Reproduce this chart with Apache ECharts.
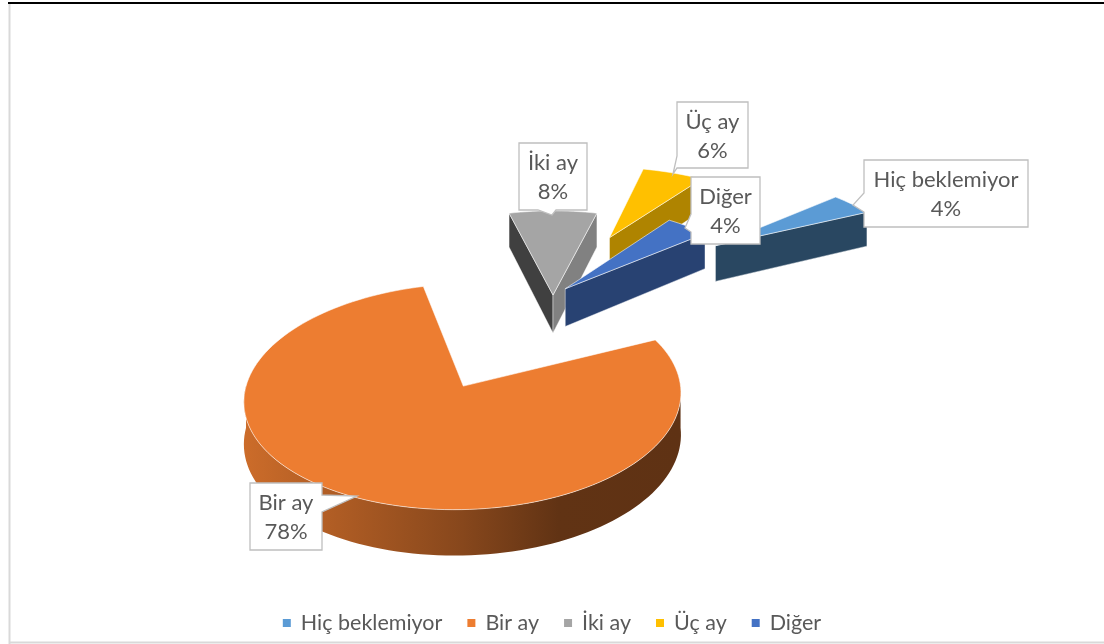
<!DOCTYPE html>
<html><head><meta charset="utf-8">
<script src="https://cdn.jsdelivr.net/npm/echarts@6/dist/echarts.min.js"></script>
<style>html,body{margin:0;padding:0;background:#fff}#c{width:1104px;height:644px}</style>
</head><body><div id="c"></div>
<script>
// ---- data ----
const categories = ['Hiç beklemiyor', 'Bir ay', 'İki ay', 'Üç ay', 'Diğer'];
const values = [4, 78, 8, 6, 4];
const pctLabels = ['4%', '78%', '8%', '6%', '4%'];

// ---- styles / layout ----
const colors = ['#5B9BD5', '#ED7D31', '#A5A5A5', '#FFC000', '#4472C4'];
const geo = { cx: 553, cy: 295, R: 198, k: 0.478, h: 38, p: 0.00056, start: 50.4 };
const explode = [205, 192, 0, 143, 18];
const labelBoxes = [
  {x: 864, y: 160, w: 164, h: 67, edge: 'left', b1: 193, b2: 212, tip: [853, 205]},
  {x: 250, y: 483, w: 72, h: 67, edge: 'right', b1: 495, b2: 512, tip: [357, 496]},
  {x: 519, y: 143, w: 68, h: 67, edge: 'bottom', b1: 538, b2: 556, tip: [552, 215]},
  {x: 677, y: 102, w: 71, h: 66, edge: 'left', b1: 156, b2: 168, tip: [673, 174]},
  {x: 691, y: 177, w: 69, h: 67, edge: 'left', b1: 214, b2: 232, tip: [685, 228]}
];
const FONT = 'Lato';

function shade(hex, f) {
  const n = parseInt(hex.slice(1), 16);
  const r = Math.round(((n >> 16) & 255) * f), g = Math.round(((n >> 8) & 255) * f), b = Math.round((n & 255) * f);
  return 'rgb(' + r + ',' + g + ',' + b + ')';
}
function proj(X, Y, Z) {
  const s = 1 + geo.p * Y;
  return [geo.cx + X * s, geo.cy + (Y * geo.k - Z) * s];
}
const total = values.reduce((a, b) => a + b, 0);
const S = [];
(function () {
  let acc = geo.start;
  values.forEach((v, i) => {
    const a1 = acc, a2 = acc + v / total * 360; acc = a2;
    const b = (a1 + a2) / 2 * Math.PI / 180;
    const ox = explode[i] * Math.sin(b), oy = -explode[i] * Math.cos(b);
    S.push({a1, a2, ox, oy, centY: oy - 0.6 * geo.R * Math.cos(b)});
  });
})();
const order = S.map((s, i) => i).sort((a, b) => S[a].centY - S[b].centY);
const rank = []; order.forEach((idx, r) => rank[idx] = r);

function rim(sl, deg, Z) {
  const t = deg * Math.PI / 180;
  return proj(sl.ox + geo.R * Math.sin(t), sl.oy - geo.R * Math.cos(t), Z);
}
function arc(sl, d1, d2, Z) {
  const n = Math.max(2, Math.ceil(Math.abs(d2 - d1) / 2));
  const pts = [];
  for (let j = 0; j <= n; j++) pts.push(rim(sl, d1 + (d2 - d1) * j / n, Z));
  return pts;
}
function callout(b) {
  const {x, y, w, h} = b;
  if (b.edge === 'left') return [[x, y], [x + w, y], [x + w, y + h], [x, y + h], [x, b.b2], b.tip, [x, b.b1]];
  if (b.edge === 'right') return [[x, y], [x + w, y], [x + w, b.b1], b.tip, [x + w, b.b2], [x + w, y + h], [x, y + h]];
  return [[x, y], [x + w, y], [x + w, y + h], [b.b2, y + h], b.tip, [b.b1, y + h], [x, y + h]];
}

function renderItem(params, api) {
  const i = params.dataIndex;
  const sl = S[i];
  const base = rank[i] * 10;
  const children = [];
  const edge = 'rgba(255,255,255,0.55)';
  const apexT = proj(sl.ox, sl.oy, 0), apexB = proj(sl.ox, sl.oy, -geo.h);
  const addWall = (deg, nx) => {
    const f = Math.min(0.8, Math.max(0.39, 0.2 + 0.6 * nx));
    children.push({type: 'polygon', z2: base + 1,
      shape: {points: [apexT, rim(sl, deg, 0), rim(sl, deg, -geo.h), apexB]},
      style: {fill: shade(colors[i], f), stroke: edge, lineWidth: 0.8}});
  };
  const r1 = sl.a1 * Math.PI / 180, r2 = sl.a2 * Math.PI / 180;
  if (Math.sin(r1) < -1e-6) addWall(sl.a1, -Math.cos(r1));
  if (Math.sin(r2) > 1e-6) addWall(sl.a2, Math.cos(r2));
  for (let n = 0; n < 2; n++) {
    const lo = Math.max(sl.a1, 90 + 360 * n), hi = Math.min(sl.a2, 270 + 360 * n);
    if (hi > lo) {
      const top = arc(sl, lo, hi, 0), bot = arc(sl, hi, lo, -geo.h);
      const pts = top.concat(bot);
      let mn = Infinity, mx = -Infinity;
      pts.forEach(p => { mn = Math.min(mn, p[0]); mx = Math.max(mx, p[0]); });
      children.push({type: 'polygon', z2: base + 2, shape: {points: pts},
        style: {fill: {type: 'linear', x: mn, y: 0, x2: mx, y2: 0, global: true, colorStops: [
          {offset: 0, color: shade(colors[i], 0.86)},
          {offset: 0.5, color: shade(colors[i], 0.57)},
          {offset: 0.72, color: shade(colors[i], 0.41)},
          {offset: 1, color: shade(colors[i], 0.4)}]}, stroke: null}});
    }
  }
  children.push({type: 'polygon', z2: base + 3,
    shape: {points: [apexT].concat(arc(sl, sl.a1, sl.a2, 0))},
    style: {fill: colors[i], stroke: edge, lineWidth: 1}});
  const lb = labelBoxes[i];
  children.push({type: 'polygon', z2: 1000, shape: {points: callout(lb)},
    style: {fill: '#fff', stroke: '#BFBFBF', lineWidth: 1.3}});
  children.push({type: 'text', z2: 1001, style: {
    text: categories[i] + '\n' + pctLabels[i], x: lb.x + lb.w / 2, y: lb.y + lb.h / 2 + 1,
    align: 'center', verticalAlign: 'middle', fill: '#595959',
    fontSize: 22, fontFamily: FONT, lineHeight: 29}});
  return {type: 'group', children};
}

const chart = echarts.init(document.getElementById('c'), null, {renderer: 'canvas'});
chart.setOption({
  animation: false,
  backgroundColor: '#fff',
  legend: {
    data: categories, left: 'center', top: 607, icon: 'rect', itemWidth: 8, itemHeight: 8, itemGap: 25,
    selectedMode: false, textStyle: {fontSize: 21.5, color: '#595959', fontFamily: FONT, padding: [0, 0, 0, 5]}
  },
  graphic: [
    {type: 'line', shape: {x1: 8, y1: 3, x2: 1104, y2: 3}, style: {stroke: '#000', lineWidth: 2}},
    {type: 'line', shape: {x1: 9.5, y1: 4, x2: 9.5, y2: 644}, style: {stroke: '#D9D9D9', lineWidth: 2}},
    {type: 'line', shape: {x1: 10, y1: 642.5, x2: 1104, y2: 642.5}, style: {stroke: '#D9D9D9', lineWidth: 2}}
  ],
  series: [
    {type: 'pie', silent: true, center: [-100, -100], radius: [0, 1], label: {show: false},
      data: categories.map((n, i) => ({name: n, value: values[i], itemStyle: {color: colors[i]}}))},
    {type: 'custom', coordinateSystem: 'none', renderItem: renderItem, silent: true,
      data: values.map((v, i) => ({name: categories[i], value: v}))}
  ]
});
</script></body></html>
